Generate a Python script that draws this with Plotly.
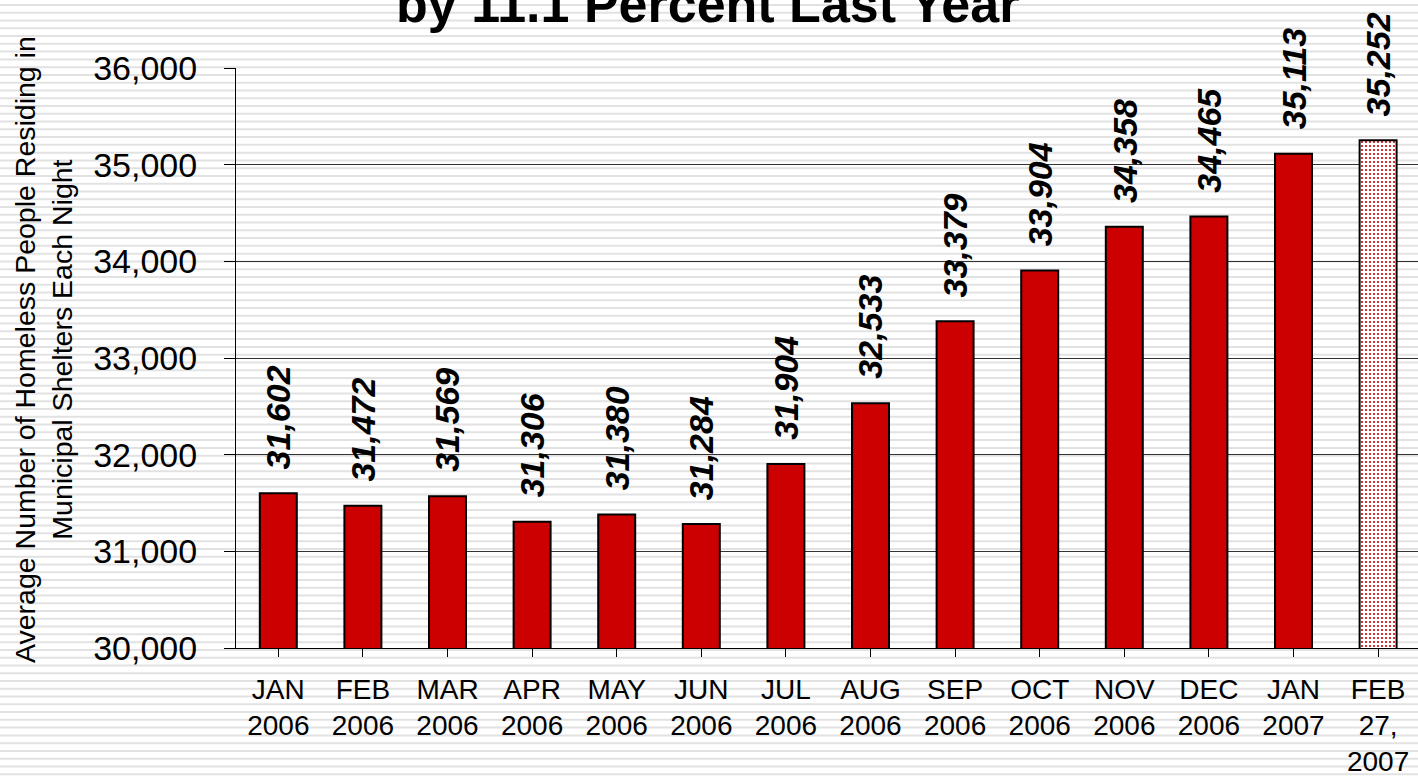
import plotly.graph_objects as go

months = ["JAN", "FEB", "MAR", "APR", "MAY", "JUN", "JUL", "AUG", "SEP", "OCT", "NOV", "DEC", "JAN", "FEB"]
years = ["2006", "2006", "2006", "2006", "2006", "2006", "2006", "2006", "2006", "2006", "2006", "2006", "2007", "27,<br>2007"]
values = [31602, 31472, 31569, 31306, 31380, 31284, 31904, 32533, 33379, 33904, 34358, 34465, 35113, 35252]
y_ticks = [30000, 31000, 32000, 33000, 34000, 35000, 36000]

categories = [f"{m}<br>{y}" for m, y in zip(months, years)]
labels = [f"{v:,}" for v in values]

W, H = 1418, 777
L, T, B = 236, 68, 129
plot_w = W - L
plot_h = H - T - B
cat_px = 84.6

red = "#cc0000"
n = len(values)
idx = list(range(n))

fig = go.Figure()
# monthly averages (solid)
fig.add_trace(go.Bar(
    x=idx[:-1], y=values[:-1], width=0.437,
    marker=dict(color=red, line=dict(color="black", width=2)),
    hoverinfo="skip",
))
# latest partial month (dotted fill)
fig.add_trace(go.Bar(
    x=idx[-1:], y=values[-1:], width=0.437,
    marker=dict(color="white", line=dict(color="black", width=2),
                pattern=dict(shape=".", fgcolor=red, bgcolor="white",
                             fillmode="replace", size=4, solidity=0.22)),
    hoverinfo="skip",
))

# background stripes (decorative)
def px_x(p):
    return (p - L) / plot_w

def px_y(p):
    return (H - B - p) / plot_h

path = ""
y = 5.0
while y < H + 4:
    path += f"M{px_x(0):.5f},{px_y(y):.5f} L{px_x(W):.5f},{px_y(y):.5f} "
    y += 7.77
fig.add_shape(type="path", path=path, xref="paper", yref="paper",
              line=dict(color="#e2e2e2", width=2), layer="below")

annotations = []
for i, (v, t) in enumerate(zip(values, labels)):
    annotations.append(dict(
        x=i, y=v, xref="x", yref="y", text=f"<b><i>{t}</i></b>", showarrow=False,
        textangle=-90, xanchor="center", yanchor="bottom", yshift=22,
        font=dict(family="Liberation Sans", size=34, color="black"),
    ))

annotations.append(dict(
    x=px_x(707), y=px_y(24), xref="paper", yref="paper",
    text="<b>by 11.1 Percent Last Year</b>", showarrow=False,
    xanchor="center", yanchor="bottom", yshift=-11,
    font=dict(family="Liberation Sans", size=52, color="black"),
))
annotations.append(dict(
    x=px_x(43), y=px_y(350), xref="paper", yref="paper",
    text="Average Number of Homeless People Residing in<br>Municipal Shelters Each Night",
    showarrow=False, textangle=-90, xanchor="center", yanchor="middle",
    font=dict(family="Liberation Sans", size=28.5, color="black"),
))

fig.update_layout(
    template="none",
    width=W, height=H,
    margin=dict(l=L, r=0, t=T, b=B, pad=0),
    paper_bgcolor="white", plot_bgcolor="rgba(0,0,0,0)",
    showlegend=False, annotations=annotations, barmode="overlay",
    font=dict(family="Liberation Sans", color="black"),
)
fig.update_xaxes(
    tickmode="array", tickvals=idx, ticktext=categories,
    range=[-0.5, -0.5 + plot_w / cat_px], automargin=False,
    showline=True, linecolor="black", linewidth=1,
    ticks="outside", ticklen=8, tickcolor="black", tickwidth=1,
    showgrid=False, zeroline=False,
    tickfont=dict(family="Liberation Sans", size=28, color="black"),
    ticklabelstandoff=8,
)
fig.update_yaxes(
    range=[30000, 36000], tickvals=y_ticks, tickformat=",d", automargin=False,
    showline=True, linecolor="black", linewidth=1,
    ticks="outside", ticklen=11, tickcolor="black", tickwidth=1,
    showgrid=True, gridcolor="#333333", gridwidth=1, zeroline=False,
    tickfont=dict(family="Liberation Sans", size=34, color="black"),
    ticklabelstandoff=20,
)

fig.write_html("out.html", config={"displayModeBar": False},
               post_script="document.body.style.margin='0px';document.body.style.overflow='hidden';")
